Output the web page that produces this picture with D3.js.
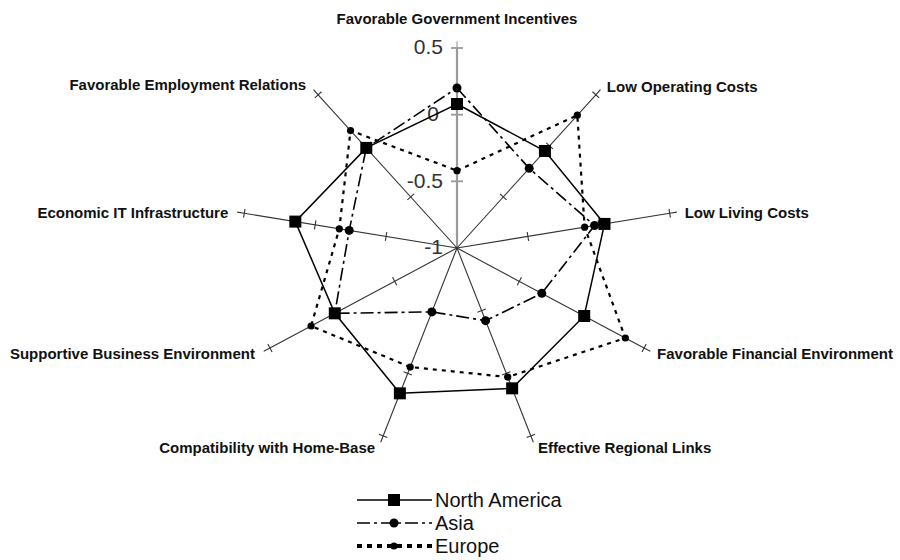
<!DOCTYPE html>
<html lang="en">
<head>
<meta charset="UTF-8">
<title>Location factors radar</title>
<script src="https://d3js.org/d3.v7.min.js"></script>
<style>
    body {margin: 0; background: #fff;}
    .axis-label {font-family: "Liberation Sans", Arial, sans-serif; font-weight: bold; font-size: 15px; fill: #111;}
    .tick-label {font-family: "Liberation Sans", Arial, sans-serif; font-size: 21px; fill: #333;}
    .legend-label {font-family: "Liberation Sans", Arial, sans-serif; font-size: 20px; fill: #111;}
</style>
</head>
<body>
<svg id="chart" width="900" height="560"></svg>
<script>
// axes, clockwise from the top
var axes = ["Favorable Government Incentives", "Low Operating Costs", "Low Living Costs",
    "Favorable Financial Environment", "Effective Regional Links", "Compatibility with Home-Base",
    "Supportive Business Environment", "Economic IT Infrastructure", "Favorable Employment Relations"];

var northAmerica = [0.08, -0.05, 0.04, 0.02, 0.12, 0.16, -0.02, 0.14, -0.02];
var asia         = [0.20, -0.22, -0.03, -0.32, -0.42, -0.49, -0.02, -0.24, -0.02];
var europe       = [-0.42, 0.30, -0.10, 0.35, 0.03, -0.05, 0.17, -0.17, 0.15];

var tickValues = [-1, -0.5, 0, 0.5];
var tickLabels = ["-1", "-0.5", "0", "0.5"];
var seriesNames = ["North America", "Asia", "Europe"];

var svg = d3.select("#chart");
var cx = 457, cy = 248, sx = 1.08;   // plot is a little wider than tall
var r = d3.scaleLinear().domain([-1, 0.5]).range([0, 200]);
var angle = function(i) { return i * 2 * Math.PI / axes.length; };

function pt(i, v) {
    var a = angle(i);
    return [cx + sx * r(v) * Math.sin(a), cy - r(v) * Math.cos(a)];
}

// label placement, offset from the end of each axis
var labelPos = [
    {dx: 0, dy: -29, anchor: "middle"},
    {dx: 11, dy: -8, anchor: "start"},
    {dx: 15, dy: -1, anchor: "start"},
    {dx: 13, dy: 6, anchor: "start"},
    {dx: 7, dy: 12, anchor: "start"},
    {dx: -8, dy: 12, anchor: "end"},
    {dx: -15, dy: 6, anchor: "end"},
    {dx: -16, dy: -1, anchor: "end"},
    {dx: -12, dy: -10, anchor: "end"}
];

// axes
var axisG = svg.append("g");
axes.forEach(function(name, i) {
    var end = pt(i, 0.5);
    var col = i === 0 ? "#9a9a9a" : "#333";
    axisG.append("line")
        .attr("x1", cx).attr("y1", cy).attr("x2", end[0]).attr("y2", end[1])
        .attr("stroke", col)
        .attr("stroke-width", i === 0 ? 2.2 : 1.1);
    // small perpendicular ticks
    var a = angle(i);
    var ux = sx * Math.sin(a), uy = -Math.cos(a);
    var len = Math.sqrt(ux * ux + uy * uy);
    ux /= len; uy /= len;
    tickValues.slice(1).forEach(function(v) {
        var p = pt(i, v), h = i === 0 ? 6 : 4.5;
        axisG.append("line")
            .attr("x1", p[0] - uy * h).attr("y1", p[1] + ux * h)
            .attr("x2", p[0] + uy * h).attr("y2", p[1] - ux * h)
            .attr("stroke", col)
            .attr("stroke-width", i === 0 ? 1.8 : 1.1);
    });
    // tip extends a little past 0.5 to make a cross
    var tip = pt(i, 0.55);
    axisG.append("line")
        .attr("x1", end[0]).attr("y1", end[1]).attr("x2", tip[0]).attr("y2", tip[1])
        .attr("stroke", col).attr("stroke-width", 1.1);

    var lp = labelPos[i];
    svg.append("text").attr("class", "axis-label")
        .attr("x", end[0] + lp.dx).attr("y", end[1] + lp.dy)
        .attr("dy", "0.35em")
        .attr("text-anchor", lp.anchor)
        .text(name);
});

// value labels on the vertical axis
tickValues.forEach(function(v, k) {
    svg.append("text").attr("class", "tick-label")
        .attr("x", v === 0 ? cx - 18 : cx - 14).attr("y", cy - r(v) - 1)
        .attr("dy", "0.35em")
        .attr("text-anchor", "end")
        .text(tickLabels[k]);
});

var line = d3.line()
    .x(function(d, i) { return pt(i, d)[0]; })
    .y(function(d, i) { return pt(i, d)[1]; })
    .curve(d3.curveLinearClosed);

var styles = [
    {data: northAmerica, dash: null, width: 1.5, marker: "square"},
    {data: asia, dash: "13,4,3,4", width: 1.6, marker: "circle", rad: 4.5},
    {data: europe, dash: "4,5", width: 2.2, marker: "circle", rad: 3.6}
];

// lines: Europe and Asia below North America
[2, 1, 0].forEach(function(k) {
    var s = styles[k];
    svg.append("path")
        .attr("d", line(s.data))
        .attr("fill", "none")
        .attr("stroke", "#000")
        .attr("stroke-width", s.width)
        .attr("stroke-dasharray", s.dash);
});

function drawMarker(g, s, x, y) {
    if (s.marker === "square") {
        g.append("rect").attr("x", x - 6).attr("y", y - 6).attr("width", 12).attr("height", 12).attr("fill", "#000");
    } else {
        g.append("circle").attr("cx", x).attr("cy", y).attr("r", s.rad).attr("fill", "#000");
    }
}

var markG = svg.append("g");
[2, 1, 0].forEach(function(k) {
    var s = styles[k];
    s.data.forEach(function(v, i) {
        var p = pt(i, v);
        drawMarker(markG, s, p[0], p[1]);
    });
});

// legend
var legend = svg.append("g").attr("transform", "translate(357,500)");
seriesNames.forEach(function(name, k) {
    var s = styles[k];
    var y = k * 23;
    legend.append("line")
        .attr("x1", 0).attr("x2", 75).attr("y1", y).attr("y2", y)
        .attr("stroke", "#000").attr("stroke-width", k === 2 ? 4 : 1.5)
        .attr("stroke-dasharray", k === 2 ? "5,5" : s.dash);
    drawMarker(legend, s, 37, y);
    legend.append("text").attr("class", "legend-label")
        .attr("x", 78).attr("y", y).attr("dy", "0.35em")
        .text(name);
});
</script>
</body>
</html>
